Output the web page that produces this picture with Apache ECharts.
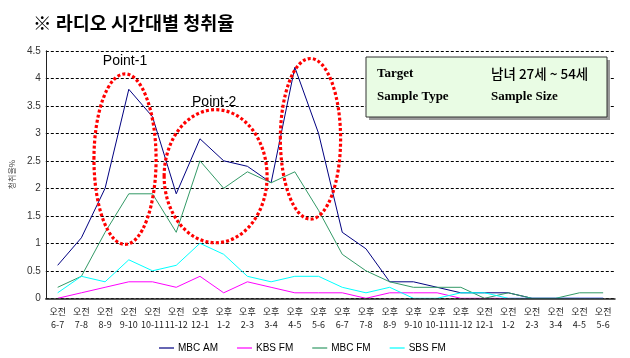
<!DOCTYPE html>
<html><head><meta charset="utf-8">
<script src="https://cdn.jsdelivr.net/npm/echarts@6/dist/echarts.min.js"></script>
<style>html,body{margin:0;padding:0;background:#fff}#c{width:630px;height:358px}</style>
</head><body><div id="c"></div>
<script>
const categories = ['오전\n6-7','오전\n7-8','오전\n8-9','오전\n9-10','오전\n10-11','오전\n11-12','오후\n12-1','오후\n1-2','오후\n2-3','오후\n3-4','오후\n4-5','오후\n5-6','오후\n6-7','오후\n7-8','오후\n8-9','오후\n9-10','오후\n10-11','오후\n11-12','오전\n12-1','오전\n1-2','오전\n2-3','오전\n3-4','오전\n4-5','오전\n5-6'];
const seriesNames = ['MBC AM','KBS FM','MBC FM','SBS FM'];
const mbcAM = [0.6,1.1,2.0,3.8,3.3,1.9,2.9,2.5,2.4,2.1,4.2,3.0,1.2,0.9,0.3,0.3,0.2,0.1,0.1,0.1,0,0,0,0];
const kbsFM = [0,0.1,0.2,0.3,0.3,0.2,0.4,0.1,0.3,0.2,0.1,0.1,0.1,0,0.1,0.1,0.1,0,0,0,0,0,0,0];
const mbcFM = [0.2,0.4,1.2,1.9,1.9,1.2,2.5,2.0,2.3,2.1,2.3,1.6,0.8,0.5,0.3,0.2,0.2,0.2,0,0.1,0,0,0.1,0.1];
const sbsFM = [0.1,0.4,0.3,0.7,0.5,0.6,1.0,0.8,0.4,0.3,0.4,0.4,0.2,0.1,0.2,0,0,0.1,0.1,0,0,0,0,0];
const yTicks = {min:0, max:4.5, interval:0.5};
const colors = ['#000080','#ff00ff','#339966','#00ffff'];
// annotations in data terms: category index (fractional), value
const ellipses = [
  {ci:2.84, v:2.53, rc:1.31, rv:1.55},
  {ci:6.66, v:2.22, rc:2.17, rv:1.21},
  {ci:10.66, v:2.9, rc:1.27, rv:1.46}
];
const notes = [{text:'Point-1', ci:2.84, v:4.32},{text:'Point-2', ci:6.6, v:3.57}];

const chart = echarts.init(document.getElementById('c'));
const font = 'Arial, "Liberation Sans", "Noto Sans CJK KR", sans-serif';
const data = [mbcAM,kbsFM,mbcFM,sbsFM];
chart.setOption({
  animation:false,
  textStyle:{fontFamily:font},
  title:{text:'※ 라디오 시간대별 청취율', left:28, top:9,
    textStyle:{fontFamily:'"Noto Sans CJK KR", sans-serif', fontWeight:'bold', fontSize:18.5, color:'#000'}},
  grid:{left:33, right:15, top:50.8, bottom:59.7, containLabel:false},
  legend:{data:seriesNames.map(n=>({name:n,icon:'rect'})), left:154, top:338, itemGap:19, itemWidth:15, itemHeight:1.2,
    textStyle:{fontSize:10, color:'#000', fontFamily:font, padding:[0,0,0,-1]}},
  xAxis:{type:'category', data:categories, boundaryGap:true, z:5,
    axisLine:{lineStyle:{color:'#222', width:1.5}}, axisTick:{show:false},
    axisLabel:{interval:0, fontSize:9, color:'#222', margin:7, lineHeight:13, fontFamily:'"Noto Sans CJK KR", sans-serif'}},
  yAxis:{type:'value', min:yTicks.min, max:yTicks.max, interval:yTicks.interval,
    name:'청취율%', nameLocation:'middle', nameGap:25, nameRotate:90,
    nameTextStyle:{fontSize:8, color:'#444', fontFamily:'"Noto Sans CJK KR", sans-serif'},
    axisLine:{show:true, lineStyle:{color:'#222', width:1}}, axisTick:{show:false},
    axisLabel:{fontSize:10, color:'#333', margin:5},
    splitLine:{lineStyle:{color:'#000', type:[3,2], width:1}}},
  series:data.map((d,i)=>({name:seriesNames[i], type:'line', data:d, symbol:'none',
    lineStyle:{color:colors[i], width:1}, itemStyle:{color:colors[i]}}))
});

function px(ci, v){
  const p0 = chart.convertToPixel({gridIndex:0},[0,0]);
  const p1 = chart.convertToPixel({gridIndex:0},[1,1]);
  const bw = p1[0]-p0[0], uh = p0[1]-p1[1];
  return {x:p0[0]+ci*bw, y:p0[1]-v*uh, bw:bw, uh:uh};
}
const graphics = [];
ellipses.forEach(e=>{
  const c = px(e.ci, e.v);
  graphics.push({type:'ellipse', z:10, shape:{cx:c.x, cy:c.y, rx:e.rc*c.bw, ry:e.rv*c.uh},
    style:{fill:null, stroke:'#ff0000', lineWidth:3.2, lineDash:[3,2.2]}});
});
notes.forEach(n=>{
  const c = px(n.ci, n.v);
  graphics.push({type:'text', z:11, x:c.x, y:c.y, style:{text:n.text, fill:'#000', font:'14px Arial, "Liberation Sans", sans-serif', textAlign:'center', textVerticalAlign:'middle'}});
});
// info box
graphics.push({type:'rect', z:12, shape:{x:369, y:60, width:241, height:60}, style:{fill:'#9a9a9a'}});
graphics.push({type:'rect', z:13, shape:{x:366, y:57, width:241, height:60}, style:{fill:'#e9fce4', stroke:'#333', lineWidth:1}});
const serif = 'bold 13px "Liberation Serif", "DejaVu Serif", serif';
graphics.push({type:'text', z:14, x:377, y:74, style:{text:'Target', font:serif, fill:'#000', textVerticalAlign:'middle'}});
graphics.push({type:'text', z:14, x:377, y:97, style:{text:'Sample Type', font:serif, fill:'#000', textVerticalAlign:'middle'}});
graphics.push({type:'text', z:14, x:491, y:74, style:{text:'남녀 27세 ~ 54세', font:'500 13.5px "Noto Sans CJK KR", sans-serif', fill:'#000', textVerticalAlign:'middle'}});
graphics.push({type:'text', z:14, x:491, y:97, style:{text:'Sample Size', font:serif, fill:'#000', textVerticalAlign:'middle'}});
chart.setOption({graphic:graphics});
</script></body></html>
